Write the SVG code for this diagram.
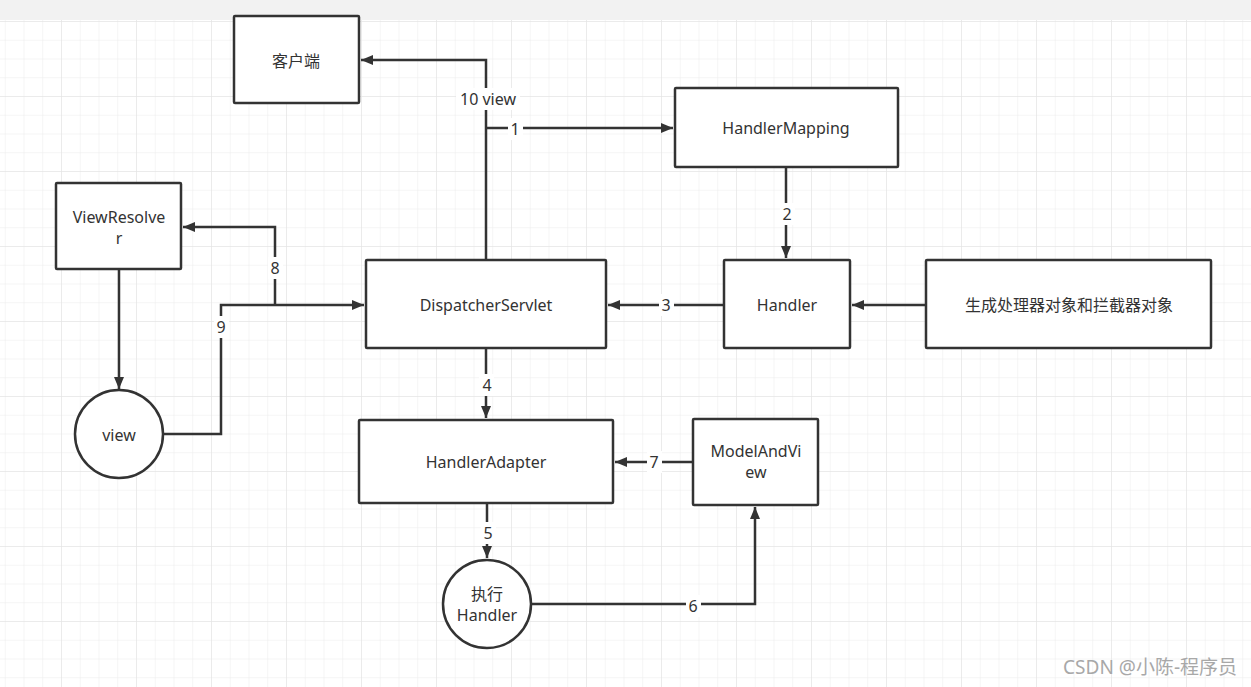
<svg xmlns="http://www.w3.org/2000/svg" width="1251" height="687" viewBox="0 0 1251 687">
<defs>
<pattern id="minor" x="-14" y="21" width="18.75" height="18.75" patternUnits="userSpaceOnUse">
<path d="M0 0 H18.75 M0 0 V18.75" stroke="#ececec" stroke-width="1" fill="none"/>
</pattern>
<pattern id="major" x="-14" y="21" width="75" height="75" patternUnits="userSpaceOnUse">
<path d="M0 0 H75 M0 0 V75" stroke="#e2e2e2" stroke-width="1" fill="none"/>
</pattern>
<marker id="arr" viewBox="0 0 12 10" refX="12" refY="5" markerWidth="12" markerHeight="10" markerUnits="userSpaceOnUse" orient="auto">
<path d="M0 0 L12 5 L0 10 Z" fill="#333"/>
</marker>
<style>
.box{fill:#fff;stroke:#333;stroke-width:2.5}
.t{font-family:"Noto Sans","Noto Sans CJK SC",sans-serif;font-size:16px;fill:#333;text-anchor:middle;dominant-baseline:central}
.c{fill:none;stroke:#333;stroke-width:2.5}
.lb{fill:#fff}
</style>
</defs>
<rect width="1251" height="687" fill="#fff"/>
<rect width="1251" height="687" fill="url(#minor)"/>
<rect width="1251" height="687" fill="url(#major)"/>
<rect width="1251" height="20" fill="#f2f2f2"/>

<g id="connectors">
<path class="c" d="M486 260 V60 H361" marker-end="url(#arr)"/>
<path class="c" d="M486 128 H673" marker-end="url(#arr)"/>
<path class="c" d="M786 167 V258" marker-end="url(#arr)"/>
<path class="c" d="M724 305 H608" marker-end="url(#arr)"/>
<path class="c" d="M926 305 H852" marker-end="url(#arr)"/>
<path class="c" d="M486 348 V418" marker-end="url(#arr)"/>
<path class="c" d="M487 503 V558" marker-end="url(#arr)"/>
<path class="c" d="M531 604 H755 V507" marker-end="url(#arr)"/>
<path class="c" d="M693 462 H615" marker-end="url(#arr)"/>
<path class="c" d="M275 305 V227 H183" marker-end="url(#arr)"/>
<path class="c" d="M163 434 H221 V305 H364" marker-end="url(#arr)"/>
<path class="c" d="M119 269 V389" marker-end="url(#arr)"/>
<rect class="lb" x="456" y="88" width="64" height="22"/>
<text class="t" x="488" y="99">10 view</text>
<rect class="lb" x="508" y="118" width="15" height="22"/>
<text class="t" x="515" y="129">1</text>
<rect class="lb" x="780" y="203" width="15" height="22"/>
<text class="t" x="787" y="214">2</text>
<rect class="lb" x="659" y="294" width="15" height="22"/>
<text class="t" x="666" y="305">3</text>
<rect class="lb" x="479" y="374" width="15" height="22"/>
<text class="t" x="487" y="385">4</text>
<rect class="lb" x="481" y="522" width="15" height="22"/>
<text class="t" x="488" y="533">5</text>
<rect class="lb" x="686" y="595" width="15" height="22"/>
<text class="t" x="693" y="606">6</text>
<rect class="lb" x="647" y="451" width="15" height="22"/>
<text class="t" x="654" y="462">7</text>
<rect class="lb" x="268" y="257" width="15" height="22"/>
<text class="t" x="275" y="268">8</text>
<rect class="lb" x="214" y="316" width="15" height="22"/>
<text class="t" x="221" y="327">9</text>
</g>

<g id="client"><rect class="box" x="234" y="16" width="125" height="87" rx="1"/><text class="t" x="296" y="61">客户端</text></g>
<g id="handlerMapping"><rect class="box" x="675" y="88" width="223" height="79" rx="1"/><text class="t" x="786" y="128">HandlerMapping</text></g>
<g id="viewResolver"><rect class="box" x="56" y="183" width="125" height="86" rx="1"/><text class="t" x="119" y="217">ViewResolve</text><text class="t" x="119" y="238">r</text></g>
<g id="dispatcherServlet"><rect class="box" x="366" y="260" width="240" height="88" rx="1"/><text class="t" x="486" y="305">DispatcherServlet</text></g>
<g id="handler"><rect class="box" x="724" y="260" width="126" height="88" rx="1"/><text class="t" x="787" y="305">Handler</text></g>
<g id="generate"><rect class="box" x="926" y="260" width="285" height="88" rx="1"/><text class="t" x="1069" y="305">生成处理器对象和拦截器对象</text></g>
<g id="view"><circle class="box" cx="119" cy="434" r="44"/><text class="t" x="119" y="435">view</text></g>
<g id="handlerAdapter"><rect class="box" x="359" y="420" width="254" height="83" rx="1"/><text class="t" x="486" y="462">HandlerAdapter</text></g>
<g id="modelAndView"><rect class="box" x="693" y="419" width="125" height="86" rx="1"/><text class="t" x="756" y="451">ModelAndVi</text><text class="t" x="756" y="472">ew</text></g>
<g id="execHandler"><circle class="box" cx="487" cy="604" r="44"/><text class="t" x="487" y="594">执行</text><text class="t" x="487" y="615">Handler</text></g>

<text x="1237" y="674" style="font-family:'Noto Sans','Noto Sans CJK SC',sans-serif;font-size:19px;fill:#a8a8a8;text-anchor:end">CSDN @小陈-程序员</text>
</svg>
